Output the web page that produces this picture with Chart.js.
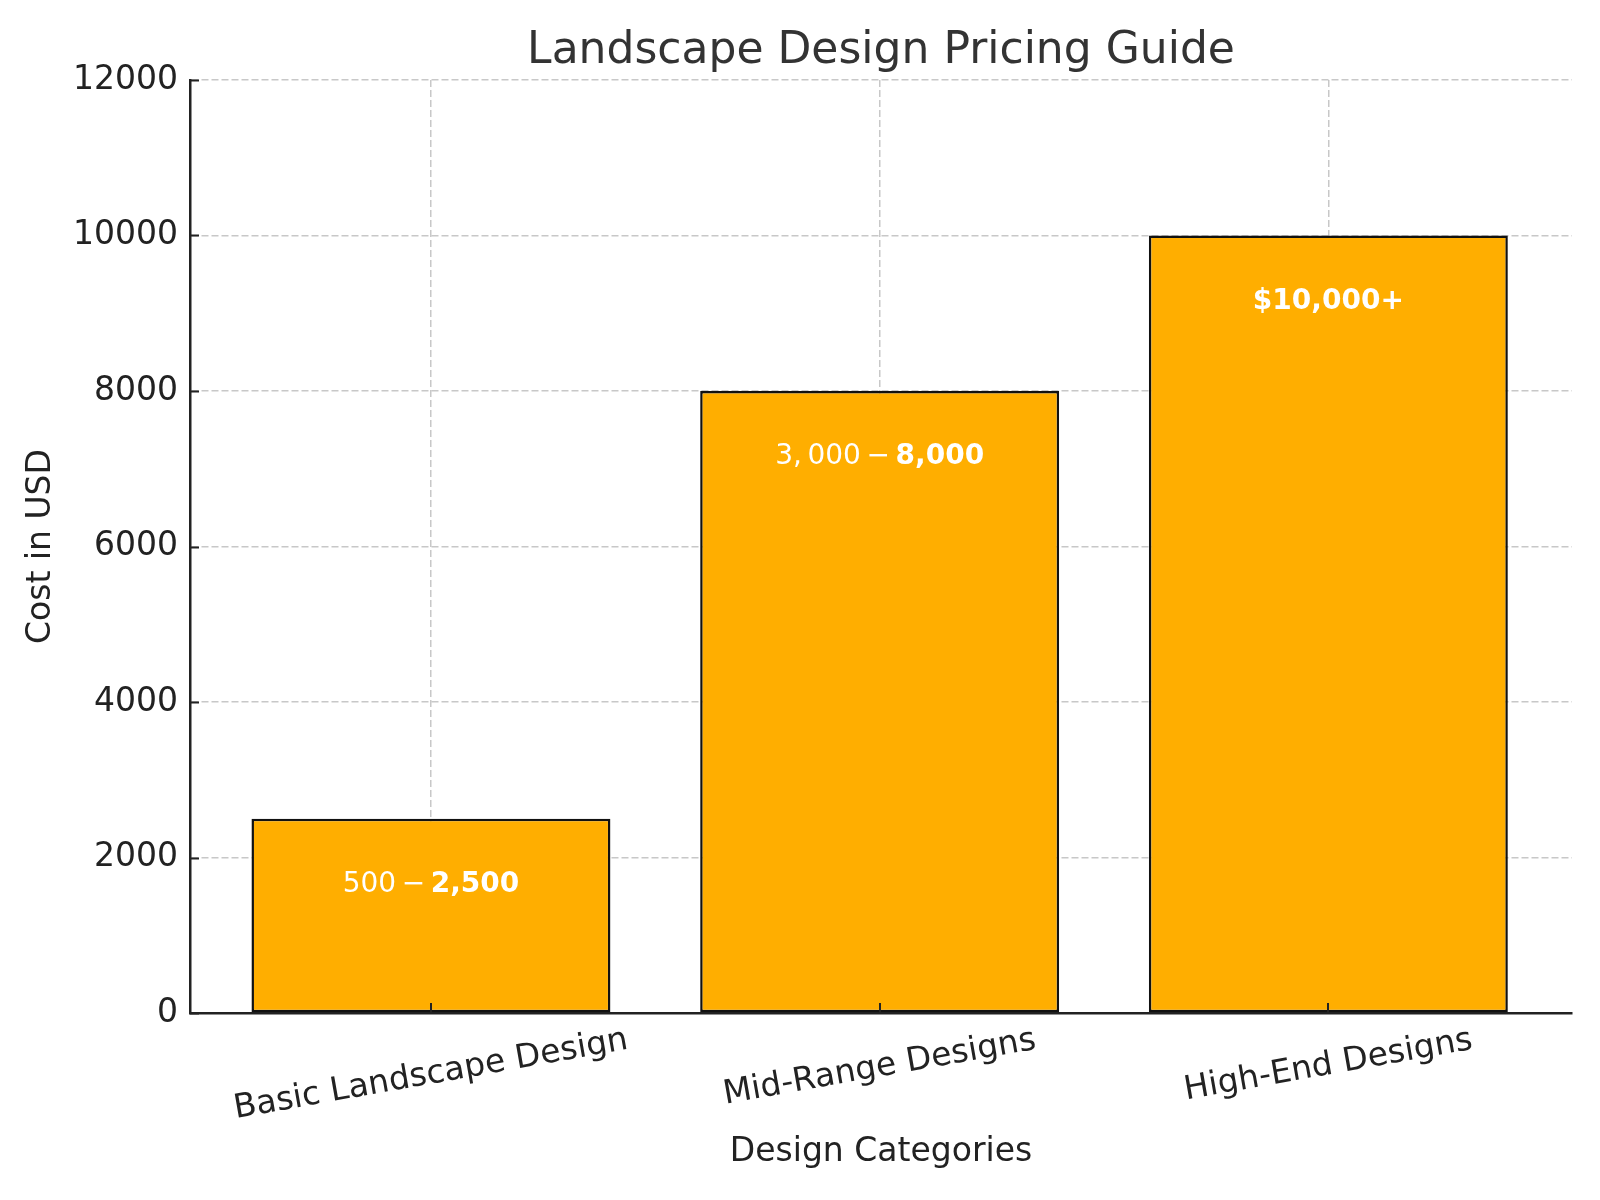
<!DOCTYPE html>
<html>
<head>
<meta charset="utf-8">
<script src="https://cdn.jsdelivr.net/npm/chart.js@4"></script>
<style>
  html, body { margin: 0; padding: 0; background: #fff; }
  #wrap { width: 1600px; height: 1200px; }
</style>
</head>
<body>
<div id="wrap"><canvas id="mycanvas" width="1600" height="1200"></canvas></div>
<script>
// chart data
var categories = ['Basic Landscape Design', 'Mid-Range Designs', 'High-End Designs'];
var costs = [2500, 8000, 10000];
// value labels (mathtext look: plain part + bold part)
var labelPlain = ['500\u2009\u2212\u2009', '3,\u2009000\u2009\u2212\u2009', ''];
var labelBold = ['2,500', '8,000', '$10,000+'];
var yMin = 0, yMax = 12000, yStep = 2000;

var FONT = "'DejaVu Sans', sans-serif";
var INK = '#222222';

var points = [];
for (var i in costs) {
	points.push({x: Number(i), y: costs[i]});
}

var extras = {
	id: 'extras',
	afterDatasetsDraw: function(chart) {
		var ctx = chart.ctx;
		var xs = chart.scales.x, ys = chart.scales.y;
		ctx.save();
		ctx.fillStyle = '#ffffff';
		ctx.textBaseline = 'alphabetic';
		for (var i = 0; i < costs.length; i++) {
			ctx.font = 'normal 28px ' + FONT;
			var w1 = ctx.measureText(labelPlain[i]).width;
			ctx.font = 'bold 28px ' + FONT;
			var w2 = ctx.measureText(labelBold[i]).width;
			var x0 = xs.getPixelForValue(i) - (w1 + w2) / 2;
			var y = ys.getPixelForValue(costs[i] - 940);
			ctx.textAlign = 'left';
			ctx.font = 'normal 28px ' + FONT;
			ctx.fillText(labelPlain[i], x0, y);
			ctx.font = 'bold 28px ' + FONT;
			ctx.fillText(labelBold[i], x0 + w1, y);
		}
		ctx.restore();
	},
	afterDraw: function(chart) {
		var ctx = chart.ctx;
		var xs = chart.scales.x, ys = chart.scales.y;
		var area = chart.chartArea;
		ctx.save();
		// inward tick marks
		ctx.strokeStyle = INK;
		ctx.lineWidth = 2;
		ctx.beginPath();
		ys.ticks.forEach(function(t) {
			var py = Math.round(ys.getPixelForValue(t.value)) + 0.5;
			ctx.moveTo(area.left, py);
			ctx.lineTo(area.left + 9, py);
		});
		xs.ticks.forEach(function(t) {
			var px = Math.round(xs.getPixelForValue(t.value));
			ctx.moveTo(px, area.bottom);
			ctx.lineTo(px, area.bottom - 10);
		});
		ctx.stroke();
		// rotated category labels, centred under each tick
		var ang = 10 * Math.PI / 180;
		ctx.font = '33px ' + FONT;
		ctx.fillStyle = INK;
		ctx.textAlign = 'center';
		ctx.textBaseline = 'middle';
		for (var i = 0; i < categories.length; i++) {
			var w = ctx.measureText(categories[i]).width;
			var cx = xs.getPixelForValue(i);
			var cy = area.bottom + 11 + (w * Math.sin(ang) + 33 * Math.cos(ang)) / 2;
			ctx.save();
			ctx.translate(cx, cy);
			ctx.rotate(-ang);
			ctx.fillText(categories[i], 0, 0);
			ctx.restore();
		}
		ctx.restore();
	}
};

var gridColor = 'rgba(176,176,176,0.7)';

var chart = new Chart(document.getElementById('mycanvas'), {
	type: 'bar',
	data: {
		datasets: [{
			label: 'Cost in USD',
			data: points,
			backgroundColor: '#ffae00',
			borderColor: '#111111',
			borderWidth: 2.5,
			borderSkipped: false,
			barPercentage: 1.0,
			categoryPercentage: 0.8
		}]
	},
	options: {
		responsive: false,
		animation: false,
		devicePixelRatio: 1,
		layout: { padding: { left: 0, top: 0, right: 28, bottom: 0 } },
		plugins: {
			legend: { display: false },
			tooltip: { enabled: false },
			title: {
				display: true,
				text: 'Landscape Design Pricing Guide',
				fullSize: false,
				color: '#333333',
				font: { family: FONT, size: 44, weight: 'normal', lineHeight: 1.2 },
				padding: { top: 25.6, bottom: 1.6 }
			}
		},
		scales: {
			x: {
				type: 'linear',
				min: -0.537,
				max: 2.543,
				offset: false,
				z: 1,
				grid: {
					offset: false,
					color: gridColor,
					lineWidth: 1.5,
					drawTicks: false
				},
				border: { display: true, color: INK, width: 2.5, dash: [7, 3] },
				ticks: { display: false, stepSize: 1, includeBounds: false },
				title: {
					display: true,
					text: 'Design Categories',
					color: INK,
					font: { family: FONT, size: 33, lineHeight: 1.2 },
					padding: { top: 0, bottom: 28 }
				},
				afterFit: function(scale) { scale.height = 187; }
			},
			y: {
				min: yMin,
				max: yMax,
				z: 1,
				grid: {
					color: gridColor,
					lineWidth: 1.5,
					drawTicks: false
				},
				border: { display: true, color: INK, width: 2.5, dash: [7, 3] },
				ticks: {
					stepSize: yStep,
					color: INK,
					padding: 12,
					font: { family: FONT, size: 33 },
					callback: function(v) { return String(v); }
				},
				title: {
					display: true,
					text: 'Cost in USD',
					color: INK,
					font: { family: FONT, size: 33, lineHeight: 1.2 },
					padding: { top: 22, bottom: 0 }
				},
				afterFit: function(scale) { scale.width = 190; }
			}
		}
	},
	plugins: [extras]
});
</script>
</body>
</html>
